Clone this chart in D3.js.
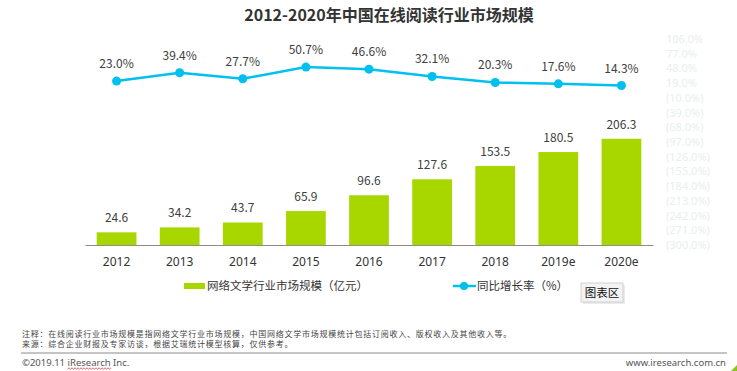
<!DOCTYPE html>
<html>
<head>
<meta charset="utf-8">
<script src="https://cdn.jsdelivr.net/npm/d3@7"></script>
<style>
    body { margin: 0; background: #fff; }
    text { font-family: "Noto Sans CJK SC", "Noto Sans", sans-serif; }
</style>
</head>
<body>
<svg id="chart" width="737" height="371"></svg>
<script>
/* global d3 */

// Chart data
// ---------------
var years = ["2012", "2013", "2014", "2015", "2016", "2017", "2018", "2019e", "2020e"];
var marketSize = [24.6, 34.2, 43.7, 65.9, 96.6, 127.6, 153.5, 180.5, 206.3];
var growthRate = [23.0, 39.4, 27.7, 50.7, 46.6, 32.1, 20.3, 17.6, 14.3];
var rateTicks = [106, 77, 48, 19, -10, -39, -68, -97, -126, -155, -184, -213, -242, -271, -300];
var legendNames = ["网络文学行业市场规模（亿元）", "同比增长率（%）"];

var title = "2012-2020年中国在线阅读行业市场规模";
var notes = [
    "注释：在线阅读行业市场规模是指网络文学行业市场规模，中国网络文学市场规模统计包括订阅收入、版权收入及其他收入等。",
    "来源：综合企业财报及专家访谈，根据艾瑞统计模型核算，仅供参考。"
];
var copyright = "©2019.11 iResearch Inc.";
var website = "www.iresearch.com.cn";

var barColor = "#a8d700";
var lineColor = "#00c0f0";

var svg = d3.select("#chart");

// Scales
// ---------------
var x = d3.scaleBand()
    .domain(years)
    .range([85, 653])
    .paddingInner(0.37)
    .paddingOuter(0.185);

var yBar = d3.scaleLinear()
    .domain([0, 400])
    .range([245, 39]);

var yRate = d3.scaleLinear()
    .domain([-300, 106])
    .range([245, 39]);

// Title
// ---------------
svg.append("text")
    .text(title)
    .attr("x", 389)
    .attr("y", 21)
    .attr("font-size", 16)
    .attr("font-weight", "bold")
    .attr("text-anchor", "middle")
    .style("fill", "#333");

// Right axis (very faint)
// ---------------
var rightAxis = svg.append("g")
    .attr("transform", "translate(661, 0)")
    .call(d3.axisRight(yRate)
        .tickValues(rateTicks)
        .tickSize(0)
        .tickFormat(d => d < 0 ? "(" + d3.format(".1f")(-d) + "%)" : d3.format(".1f")(d) + "%"));
rightAxis.select(".domain").remove();
rightAxis.selectAll("text")
    .attr("x", 5)
    .attr("font-size", 11)
    .style("font-family", "\"Noto Sans\", sans-serif")
    .style("fill", "#e9eeee");

// Bars
// ---------------
var bars = svg.append("g")
    .attr("id", "bars");

bars.selectAll("rect")
    .data(marketSize)
    .enter().append("rect")
    .attr("x", (d, i) => x(years[i]))
    .attr("y", d => yBar(d))
    .attr("width", x.bandwidth())
    .attr("height", d => yBar(0) - yBar(d))
    .style("fill", barColor);

bars.selectAll("text")
    .data(marketSize)
    .enter().append("text")
    .text(d => d3.format(".1f")(d))
    .attr("x", (d, i) => x(years[i]) + x.bandwidth() / 2)
    .attr("y", d => yBar(d) - 10)
    .attr("font-size", 12)
    .attr("text-anchor", "middle")
    .style("fill", "#404040");

// Category axis
// ---------------
var bottomAxis = svg.append("g")
    .attr("transform", `translate(0, ${yBar(0)})`)
    .call(d3.axisBottom(x).tickSize(0).tickPadding(12));
bottomAxis.select(".domain")
    .attr("stroke", "#8c8c8c")
    .attr("stroke-width", 1.2);
bottomAxis.selectAll("text")
    .attr("font-size", 12)
    .style("font-family", "\"Noto Sans\", sans-serif")
    .style("fill", "#333");

// Growth rate line
// ---------------
var line = d3.line()
    .x((d, i) => x(years[i]) + x.bandwidth() / 2)
    .y(d => yRate(d));

var rate = svg.append("g")
    .attr("id", "rate");

rate.append("path")
    .datum(growthRate)
    .attr("d", line)
    .attr("fill", "none")
    .attr("stroke", lineColor)
    .attr("stroke-width", 2.5);

rate.selectAll("circle")
    .data(growthRate)
    .enter().append("circle")
    .attr("cx", (d, i) => x(years[i]) + x.bandwidth() / 2)
    .attr("cy", d => yRate(d))
    .attr("r", 4.5)
    .style("fill", lineColor);

rate.selectAll("text")
    .data(growthRate)
    .enter().append("text")
    .text(d => d3.format(".1f")(d) + "%")
    .attr("x", (d, i) => x(years[i]) + x.bandwidth() / 2)
    .attr("y", d => yRate(d) - 13)
    .attr("font-size", 12)
    .attr("text-anchor", "middle")
    .style("fill", "#404040");

// Legend
// ---------------
var legend = svg.append("g")
    .attr("id", "legend");

legend.append("rect")
    .attr("x", 184)
    .attr("y", 283)
    .attr("width", 21)
    .attr("height", 6)
    .style("fill", barColor);
legend.append("text")
    .text(legendNames[0])
    .attr("x", 207)
    .attr("y", 290)
    .attr("font-size", 11.5)
    .style("fill", "#333");

legend.append("line")
    .attr("x1", 453)
    .attr("x2", 476)
    .attr("y1", 286)
    .attr("y2", 286)
    .attr("stroke", lineColor)
    .attr("stroke-width", 2.5);
legend.append("circle")
    .attr("cx", 464)
    .attr("cy", 286)
    .attr("r", 4)
    .style("fill", lineColor);
legend.append("text")
    .text(legendNames[1])
    .attr("x", 477)
    .attr("y", 290)
    .attr("font-size", 11.5)
    .style("fill", "#333");

// Hover tooltip "图表区"
var tip = svg.append("g")
    .attr("id", "tip");
tip.append("rect")
    .attr("x", 583)
    .attr("y", 285)
    .attr("width", 42)
    .attr("height", 19)
    .style("fill", "#ddd")
    .style("opacity", 0.6);
tip.append("rect")
    .attr("x", 581)
    .attr("y", 283)
    .attr("width", 42)
    .attr("height", 19)
    .style("fill", "#f3f3f3")
    .style("stroke", "#c8c8c8")
    .style("stroke-width", 0.8);
tip.append("text")
    .text("图表区")
    .attr("x", 602)
    .attr("y", 297)
    .attr("font-size", 11.5)
    .attr("text-anchor", "middle")
    .style("fill", "#111");

// Footer
// ---------------
var footer = svg.append("g")
    .attr("id", "footer");

// Both note lines in one text block
footer.append("text")
    .attr("class", "note")
    .attr("font-size", 8)
    .attr("letter-spacing", 0.75)
    .style("fill", "#444")
    .selectAll("tspan")
    .data(notes)
    .enter().append("tspan")
    .text(d => d)
    .attr("x", 22)
    .attr("y", (d, i) => 337 + i * 9.5);

footer.append("line")
    .attr("x1", 21)
    .attr("x2", 727)
    .attr("y1", 353)
    .attr("y2", 353)
    .attr("stroke", "#8a8a8a")
    .attr("stroke-width", 1);

var copy = footer.append("text")
    .text(copyright)
    .attr("x", 22)
    .attr("y", 366)
    .attr("font-size", 9.5)
    .style("font-family", "\"Noto Sans\", sans-serif")
    .style("fill", "#555");

footer.append("text")
    .text(website)
    .attr("x", 726)
    .attr("y", 366)
    .attr("font-size", 9.5)
    .attr("text-anchor", "end")
    .style("font-family", "\"Noto Sans\", sans-serif")
    .style("fill", "#555");

// Red spell-check squiggle under "iResearch"
var node = copy.node();
var start = copyright.indexOf("iResearch");
var x0 = node.getStartPositionOfChar(start).x;
var x1 = node.getEndPositionOfChar(start + 8).x;
var wave = d3.path();
wave.moveTo(x0, 369);
for (var wx = x0, up = true; wx < x1; wx += 1.5, up = !up) {
    wave.lineTo(wx + 1.5, up ? 367.8 : 369.2);
}
footer.append("path")
    .attr("d", wave.toString())
    .attr("fill", "none")
    .attr("stroke", "#e03030")
    .attr("stroke-width", 0.8);

// Green corner mark
footer.append("path")
    .attr("d", "M737,365 L737,371 L731,371 Z")
    .style("fill", "#8dc21f");
</script>
</body>
</html>
